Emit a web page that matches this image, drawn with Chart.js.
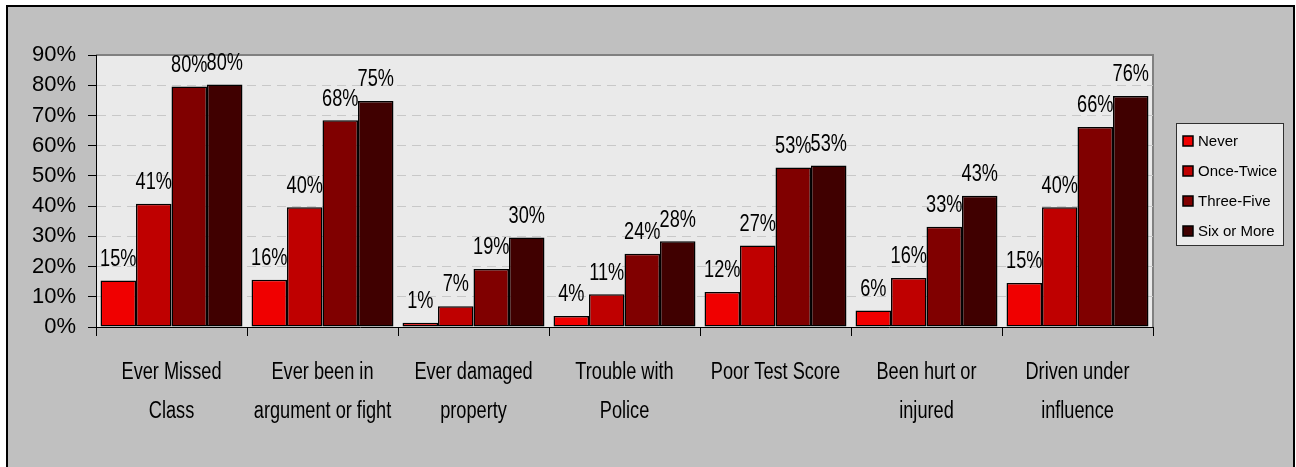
<!DOCTYPE html>
<html>
<head>
<meta charset="utf-8">
<script src="https://cdn.jsdelivr.net/npm/chart.js"></script>
<style>
  html, body { margin: 0; padding: 0; background: #fff; }
  #wrap { width: 1296px; height: 467px; }
</style>
</head>
<body>
<div id="wrap"><canvas id="chart" width="1296" height="467"></canvas></div>
<script>
// categorias (eixo X)
const categories = [
  ['Ever Missed', 'Class'],
  ['Ever been in', 'argument or fight'],
  ['Ever damaged', 'property'],
  ['Trouble with', 'Police'],
  ['Poor Test Score'],
  ['Been hurt or', 'injured'],
  ['Driven under', 'influence']
];
const seriesNames = ['Never', 'Once-Twice', 'Three-Five', 'Six or More'];
const seriesColors = ['#f00000', '#bf0000', '#800000', '#400000'];

// valores (%)
const never = [15.4, 15.6, 1.4, 3.6, 11.6, 5.5, 14.6];
const onceTwice = [40.8, 39.6, 6.9, 10.8, 27.0, 16.2, 39.6];
const threeFive = [79.6, 68.4, 19.2, 24.2, 52.8, 33.2, 66.2];
const sixOrMore = [80.2, 74.8, 29.6, 28.4, 53.4, 43.4, 76.4];
const yTicks = [0, 10, 20, 30, 40, 50, 60, 70, 80, 90];

const SANS = "'Liberation Sans', Arial, sans-serif";
const SQUEEZE = 0.79; // imita a fonte estreita do original

function narrowText(ctx, text, x, y) {
  ctx.save();
  ctx.translate(x, y);
  ctx.scale(SQUEEZE, 1);
  ctx.fillText(text, 0, 0);
  ctx.restore();
}

// fundo cinza, área do gráfico e legenda
const backdrop = {
  id: 'backdrop',
  beforeDraw(chart) {
    const { ctx, chartArea: a, width, height } = chart;
    ctx.save();
    ctx.fillStyle = '#ffffff';
    ctx.fillRect(0, 0, width, height);
    ctx.fillStyle = '#c0c0c0';
    ctx.fillRect(7, 6, width - 9, height - 6);
    ctx.strokeStyle = '#000';
    ctx.lineWidth = 2;
    ctx.beginPath();
    ctx.moveTo(7, height);
    ctx.lineTo(7, 6);
    ctx.lineTo(width - 2, 6);
    ctx.lineTo(width - 2, height);
    ctx.stroke();
    ctx.fillStyle = '#eaeaea';
    ctx.fillRect(a.left, a.top, a.right - a.left, a.bottom - a.top);
    ctx.strokeStyle = '#808080';
    ctx.lineWidth = 2;
    ctx.beginPath();
    ctx.moveTo(a.left, a.top);
    ctx.lineTo(a.right, a.top);
    ctx.lineTo(a.right, a.bottom);
    ctx.stroke();
    ctx.restore();
  },
  afterDraw(chart) {
    const { ctx } = chart;
    // rótulos das categorias
    const xs = chart.scales.x;
    ctx.save();
    ctx.font = '23px ' + SANS;
    ctx.fillStyle = '#000';
    ctx.textAlign = 'center';
    ctx.textBaseline = 'alphabetic';
    chart.data.labels.forEach((lines, i) => {
      const cx = xs.getPixelForValue(i);
      lines.forEach((t, k) => narrowText(ctx, t, cx, 379 + k * 39));
    });
    ctx.restore();

    // legenda
    const x = 1176, y = 123, w = 107, h = 122;
    ctx.save();
    ctx.fillStyle = '#eaeaea';
    ctx.fillRect(x, y, w, h);
    ctx.strokeStyle = '#303030';
    ctx.lineWidth = 1;
    ctx.strokeRect(x + 0.5, y + 0.5, w, h);
    ctx.font = '15px ' + SANS;
    ctx.textBaseline = 'middle';
    chart.data.datasets.forEach((ds, i) => {
      const cy = y + 18 + i * 30;
      ctx.fillStyle = ds.backgroundColor;
      ctx.fillRect(x + 7, cy - 5, 10, 10);
      ctx.strokeStyle = '#000';
      ctx.lineWidth = 1.5;
      ctx.strokeRect(x + 7, cy - 5, 10, 10);
      ctx.fillStyle = '#000';
      ctx.fillText(ds.label, x + 22, cy + 1);
    });
    ctx.restore();
  }
};

// rótulos de percentagem acima das barras
const valueLabels = {
  id: 'valueLabels',
  afterDatasetsDraw(chart) {
    const { ctx } = chart;
    ctx.save();
    ctx.font = '23px ' + SANS;
    ctx.fillStyle = '#000';
    ctx.textAlign = 'center';
    ctx.textBaseline = 'middle';
    chart.data.datasets.forEach((ds, i) => {
      chart.getDatasetMeta(i).data.forEach((bar, j) => {
        narrowText(ctx, Math.round(ds.data[j]) + '%', bar.x, bar.y - 21);
      });
    });
    ctx.restore();
  }
};

const allSeries = [never, onceTwice, threeFive, sixOrMore];

new Chart(document.getElementById('chart'), {
  type: 'bar',
  data: {
    labels: categories,
    datasets: allSeries.map((d, i) => ({
      label: seriesNames[i],
      data: d,
      backgroundColor: seriesColors[i],
      borderColor: '#000',
      borderWidth: 1.5,
      borderSkipped: false,
      categoryPercentage: 0.94,
      barPercentage: 1.0
    }))
  },
  options: {
    responsive: false,
    animation: false,
    layout: { padding: { left: 7, top: 55, right: 143, bottom: 0 } },
    scales: {
      x: {
        afterFit(scale) { scale.height = 140; },
        grid: {
          offset: true,
          drawOnChartArea: false,
          tickLength: 9,
          tickColor: '#000'
        },
        border: { color: '#000', width: 1 },
        ticks: { display: false, autoSkip: false }
      },
      y: {
        min: 0,
        max: 90,
        afterFit(scale) { scale.width = 89; },
        afterBuildTicks(scale) { scale.ticks = yTicks.map(v => ({ value: v })); },
        grid: {
          color: c => (c.tick && c.tick.value === 90) ? 'rgba(0,0,0,0)' : '#c8c8c8',
          tickColor: '#000',
          tickLength: 8,
          tickBorderDash: []
        },
        border: { color: '#000', width: 1, dash: [9, 6] },
        ticks: {
          color: '#000',
          padding: 12,
          font: { family: SANS, size: 22 },
          callback: v => v + '%'
        }
      }
    },
    plugins: {
      legend: { display: false },
      tooltip: { enabled: false }
    }
  },
  plugins: [backdrop, valueLabels]
});
</script>
</body>
</html>
